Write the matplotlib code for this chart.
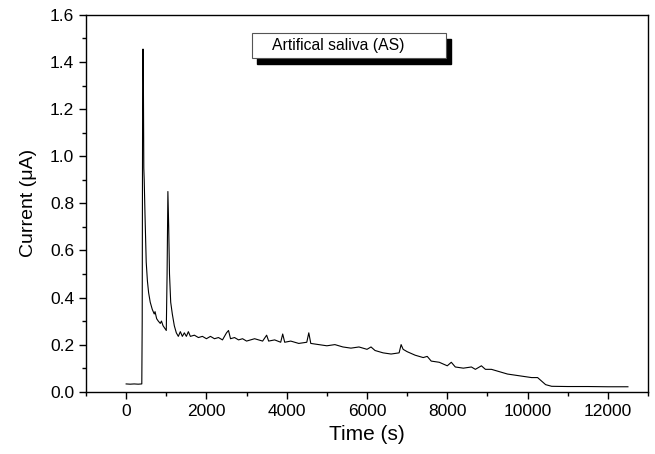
import matplotlib.pyplot as plt
from matplotlib.patches import Rectangle
from matplotlib.ticker import MultipleLocator

plt.rcParams['font.family'] = ['Liberation Sans', 'DejaVu Sans']

# time (s) and current (uA)
time_s = [0, 100, 200, 300, 390, 400, 410, 420, 430, 440, 450, 470, 500, 530, 560,
          600, 650, 700, 720, 760, 800, 850, 880, 920, 960, 1000, 1020, 1040, 1060,
          1080, 1110, 1150, 1200, 1250, 1300, 1350, 1400, 1450, 1500, 1550, 1600,
          1700, 1800, 1900, 2000, 2100, 2200, 2300, 2400, 2500, 2550, 2600, 2700,
          2800, 2900, 3000, 3200, 3400, 3500, 3550, 3700, 3850, 3900, 3950, 4100,
          4300, 4500, 4550, 4600, 4800, 5000, 5200, 5400, 5600, 5800, 6000, 6100,
          6200, 6400, 6600, 6800, 6850, 6900, 7000, 7200, 7400, 7500, 7600, 7800,
          8000, 8100, 8200, 8400, 8600, 8700, 8850, 8950, 9100, 9300, 9500, 9700,
          9900, 10100, 10250, 10350, 10450, 10600, 11000, 11500, 12000, 12500]
current = [0.033, 0.032, 0.033, 0.032, 0.033, 0.30, 1.2, 1.455, 1.3, 0.95, 0.9, 0.75,
           0.55, 0.47, 0.42, 0.38, 0.35, 0.33, 0.34, 0.31, 0.30, 0.29, 0.30, 0.28, 0.27,
           0.26, 0.5, 0.85, 0.7, 0.5, 0.38, 0.33, 0.28, 0.25, 0.235, 0.255, 0.235, 0.25,
           0.235, 0.255, 0.235, 0.24, 0.23, 0.235, 0.225, 0.235, 0.225, 0.23, 0.22,
           0.25, 0.26, 0.225, 0.23, 0.22, 0.225, 0.215, 0.225, 0.215, 0.24, 0.215,
           0.22, 0.21, 0.245, 0.21, 0.215, 0.205, 0.21, 0.25, 0.205, 0.2, 0.195, 0.2,
           0.19, 0.185, 0.19, 0.18, 0.19, 0.175, 0.165, 0.16, 0.165, 0.2, 0.18, 0.17,
           0.155, 0.145, 0.15, 0.13, 0.125, 0.11, 0.125, 0.105, 0.1, 0.105, 0.095,
           0.11, 0.095, 0.095, 0.085, 0.075, 0.07, 0.065, 0.06, 0.06, 0.045, 0.03,
           0.023, 0.022, 0.022, 0.021, 0.021]
legend_text = 'Artifical saliva (AS)'

fig = plt.figure(figsize=(6.55, 4.54), dpi=100)
ax = fig.add_axes([0.1313, 0.1372, 0.858, 0.83])
ax.plot(time_s, current, color='black', lw=0.8)

ax.set_xlim(-1000, 13000)
ax.set_ylim(0, 1.6)
ax.xaxis.set_major_locator(MultipleLocator(2000))
ax.xaxis.set_minor_locator(MultipleLocator(1000))
ax.yaxis.set_major_locator(MultipleLocator(0.2))
ax.yaxis.set_minor_locator(MultipleLocator(0.1))
ax.yaxis.set_major_formatter(lambda v, p: '%.1f' % v)
ax.tick_params(which='major', direction='out', length=5, width=1, labelsize=12.5)
ax.tick_params(which='minor', direction='out', length=3, width=1)
for s in ax.spines.values():
    s.set_linewidth(1)
ax.set_xlabel('Time (s)', fontsize=15, labelpad=5)
ax.set_ylabel('Current (\u03bcA)', fontsize=14, labelpad=9)

# legend box with drop shadow
tr = ax.transAxes
ax.add_patch(Rectangle((0.3043, 0.869), 0.345, 0.068, transform=tr,
                       facecolor='black', edgecolor='black', zorder=4))
ax.add_patch(Rectangle((0.2954, 0.885), 0.345, 0.068, transform=tr,
                       facecolor='white', edgecolor='#555555', lw=0.8, zorder=5))
ax.text(0.331, 0.919, legend_text, transform=tr, fontsize=11.3, va='center', zorder=6)

plt.savefig('out.png', dpi=100)
